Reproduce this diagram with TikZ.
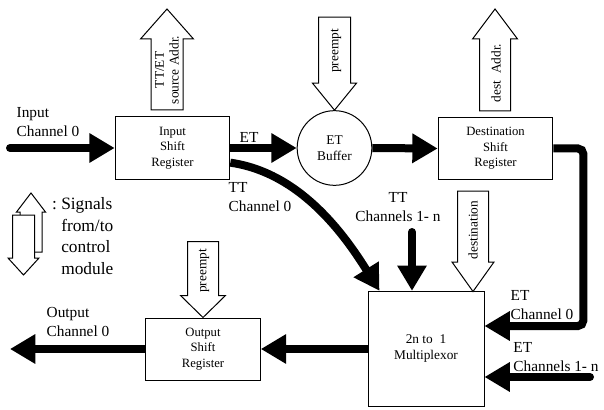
\documentclass[tikz,border=0pt]{standalone}
\usepackage{fontspec}
\setmainfont{Liberation Serif}
\usetikzlibrary{arrows.meta}
% hollow control arrow: tip, angle, length, shaft half width, head half width, head length
\newcommand{\sigarrow}[6]{%
  \draw[sig,shift={#1},rotate=#2] (0,0) -- (#5,-#6) -- (#4,-#6) -- (#4,-#3)
    -- (-#4,-#3) -- (-#4,-#6) -- (-#5,-#6) -- cycle;}

\begin{document}
\begin{tikzpicture}[x=0.75pt,y=-0.75pt,
  every node/.style={font=\fontsize{11.5}{14}\selectfont},
  box/.style={draw,line width=.75pt,minimum width=86pt,minimum height=46.5pt,align=center,font=\fontsize{9.5}{11.5}\selectfont},
  bus/.style={line width=6pt,-{Triangle[length=19pt,width=21pt]}},
  sig/.style={draw,fill=white,line width=.75pt},
  siglbl/.style={rotate=90,align=center,font=\fontsize{10}{11}\selectfont}]
  \useasboundingbox (0,0) rectangle (604,410);
  % blocks
  \node[box] (inreg) at (172.5,148) {Input\\Shift\\Register};
  \node[draw,circle,line width=.75pt,minimum size=56pt,align=center,font=\fontsize{10}{12}\selectfont] (etbuf) at (334.5,148) {ET\\Buffer};
  \node[box] (destreg) at (495.5,148.5) {Destination\\Shift\\Register};
  \node[box,minimum width=87pt,minimum height=86.5pt,font=\fontsize{10}{12}\selectfont] (mux) at (426,349) {2n to\ \ 1\\Multiplexor};
  \node[box] (outreg) at (203,349) {Output\\Shift\\Register};
  % data paths
  \coordinate (inbeg) at (10,148);
  \coordinate (outend) at (10,349);
  \coordinate (ttin) at (412,232);
  \coordinate (etin) at (590,377);
  \draw[bus,line cap=round] (inbeg) -- (inreg.west);
  \draw[bus] (inreg.east) -- (etbuf.west);
  \draw[bus] (etbuf.east) -- (destreg.west);
  \draw[bus,rounded corners=4pt] (destreg.east) -- ++(30,0) |- (mux.east |- 0,326);
  \draw[bus,line cap=round] (etin) -- (etin -| mux.east);
  \draw[bus,line cap=round] (ttin) -- (ttin |- mux.north);
  \draw[bus] ([yshift=-11pt]inreg.east) .. controls +(70,10) and +(-35,-56) .. ([xshift=9pt]mux.north west);
  \draw[bus] (mux.west) -- (outreg.east);
  \draw[bus] (outreg.west) -- (outend);
  % labels
  \node[align=left] (inlbl) at (48,122) {Input\\Channel 0};
  \node (etlbl) at (249,137) {ET};
  \node[align=left] (tt0lbl) at (260,197) {TT\\Channel 0};
  \node[align=center] (ttnlbl) at (398,207) {TT\\Channels 1- n};
  \node[align=left] (et0lbl) at (542,305) {ET\\Channel 0};
  \node[align=left] (etnlbl) at (556,357) {ET\\Channels 1- n};
  \node[align=left] (outlbl) at (78,322) {Output\\Channel 0};
  % control signals
  \sigarrow{(167,9)}{180}{101}{16}{26.5}{30}
  \sigarrow{(etbuf.north)}{0}{93}{16}{22}{27}
  \sigarrow{(495,9)}{180}{102}{15.5}{22.5}{30}
  \sigarrow{(473,291.5)}{0}{100.5}{15.5}{21}{29.5}
  \sigarrow{(outreg.north)}{0}{76}{15.5}{22.5}{22}
  \node[siglbl] (srclbl) at (167,70) {TT/ET\\source Addr.};
  \node[siglbl] (pre1lbl) at (336,51) {preempt};
  \node[siglbl] (destlbl) at (496,73) {dest\ \ Addr.};
  \node[siglbl] (dstnlbl) at (473,230) {destination};
  \node[siglbl] (pre2lbl) at (204,271) {preempt};
  % legend
  \sigarrow{(31,193)}{180}{59}{11}{14.5}{19}
  \sigarrow{(23.5,275)}{0}{60}{11}{15.5}{17}
  \node[align=left,anchor=west,inner sep=0pt,font=\fontsize{13}{16.3}\selectfont] (legend) at (61,236) {\llap{:\ }Signals\\from/to\\control\\module};
\end{tikzpicture}
\end{document}
